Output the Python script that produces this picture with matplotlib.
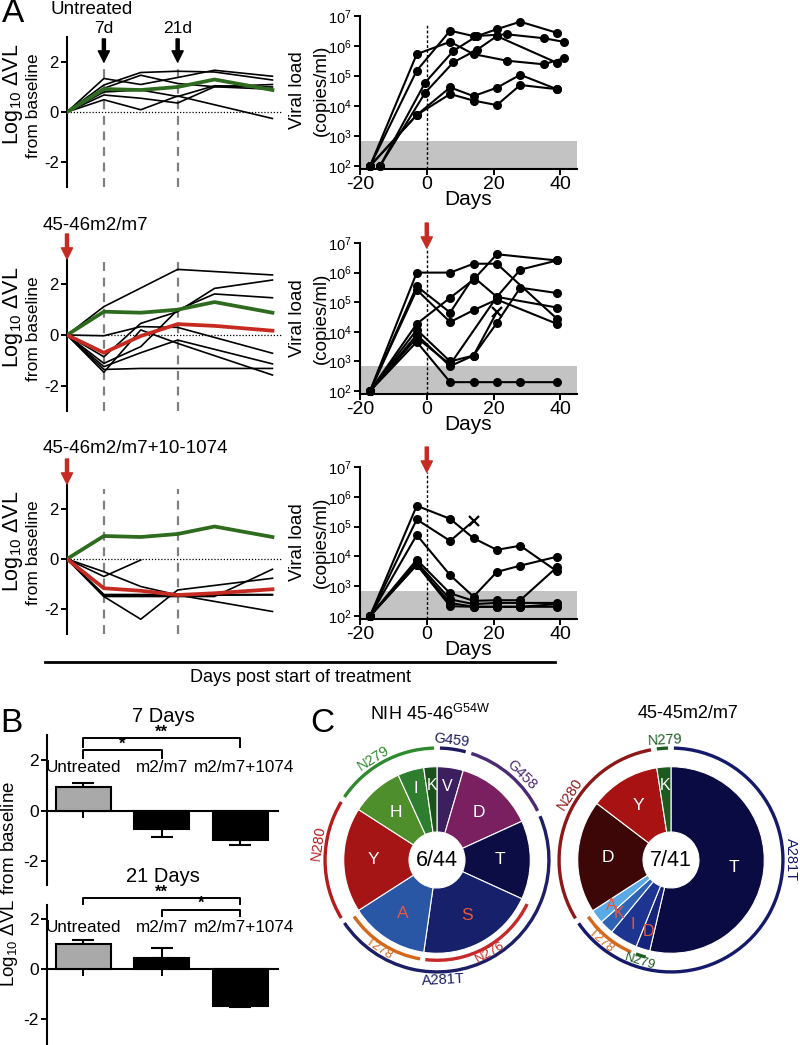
import numpy as np
import matplotlib
matplotlib.use("Agg")
import matplotlib.pyplot as plt
from matplotlib.patches import Wedge
from matplotlib.lines import Line2D

plt.rcParams['font.family'] = ['Liberation Sans', 'DejaVu Sans']
plt.rcParams['mathtext.fontset'] = 'custom'
plt.rcParams['mathtext.rm'] = 'Liberation Sans'
plt.rcParams['mathtext.it'] = 'Liberation Sans:italic'
plt.rcParams['mathtext.bf'] = 'Liberation Sans:bold'
plt.rcParams['axes.linewidth'] = 1.5
plt.rcParams['axes.unicode_minus'] = False

nan = np.nan

# ---- panel A, left: log10 change in viral load from baseline ----
dvl_days = [0, 7, 14, 21, 28, 39]
untr_mean = [0, 0.92, 0.88, 1.00, 1.30, 0.88]
m7_mean = [0, -0.70, -0.04, 0.43, 0.36, 0.17]
m1074_mean = [0, -1.17, -1.27, -1.44, -1.37, -1.21]

untr_dvl = [
    [0, 1.34, 1.10, 1.38, 1.67, 1.43],
    [0, 1.08, 1.58, 1.63, 1.60, 1.28],
    [0, 0.95, 1.47, 1.14, 1.01, 1.10],
    [0, 0.68, 0.55, 0.36, 1.01, 0.91],
    [0, 0.49, 0.09, 0.64, nan, -0.26],
    [0, 0.80, 0.88, 0.62, 1.05, 1.00],
]
m7_dvl = [
    [0, 1.12, nan, 2.59, nan, 2.37],
    [0, -0.03, 0.33, 0.30, nan, -0.72],
    [0, -0.86, 0.46, 0.92, 1.84, 2.17],
    [0, -1.12, -0.46, 0.99, 1.62, 1.47],
    [0, -1.25, -0.70, -0.20, nan, -1.14],
    [0, -1.36, -1.32, nan, nan, -1.32],
    [0, -1.47, 0.20, -0.33, nan, -1.58],
]
m1074_dvl = [
    [0, -0.51, -1.10, -1.44, nan, -2.10],
    [0, -0.70, -0.04, nan, nan, nan],
    [0, -1.50, -2.41, -1.24, nan, -0.77],
    [0, -1.50, -1.50, -1.50, -1.50, -0.41],
    [0, -1.45, nan, -1.45, nan, -1.44],
    [0, -1.42, nan, -1.42, nan, -1.42],
]

# ---- panel A, right: viral load (log10 copies/ml) ----
untr_vl_days = [
    [-17, -3, 7, 14, 24, 35, 41],
    [-17, -3, 7, 14, 24, 35, 41],
    [-14, -0.5, 8, 15, 21, 28, 39],
    [-14, -0.5, 8, 15, 21, 39],
    [-17, -3, 7, 14, 21, 28, 39],
    [-17, -3, 7, 14, 21, 28, 39],
]
untr_vl = [
    [2, 5.73, 6.14, 5.73, 5.51, 5.39, 5.59],
    [2, 5.18, 6.51, 6.33, 6.39, 6.26, 6.14],
    [2, 4.78, 5.84, 6.33, 6.56, 6.81, 6.44],
    [2, 4.44, 5.46, 5.87, 6.33, 5.44],
    [2, 3.70, 4.62, 4.33, 4.61, 5.04, 4.56],
    [2, 3.70, 4.40, 4.18, 4.03, 4.70, 4.56],
]
m7_vl_days = [
    [-17, -3, 7, 14, 21, 39],
    [-17, -3, 7, 14, 21, 39],
    [-17, -3, 7, 14, 21, 39],
    [-17, -3, 7, 14, 21, 39],
    [-17, -3, 7, 14, 21, 28, 39],
    [-17, -3, 7, 14, 21],
    [-17, -3, 7, 21, 28, 39],
    [-17, -3, 7, 14, 21, 28, 39],
]
m7_vl = [
    [2, 6.00, 6.00, 6.30, 6.30, 4.44],
    [2, 5.54, 4.65, 5.85, 5.18, 4.82],
    [2, 5.42, 4.33, 4.73, 5.09, 4.27],
    [2, 4.27, 5.15, 5.76, 6.62, 6.41],
    [2, 4.07, 3.00, 3.20, 4.30, 5.49, 5.31],
    [2, 3.90, 2.84, 3.20, 4.67],
    [2, 3.80, 2.90, 5.18, 6.10, 6.41],
    [2, 3.66, 2.30, 2.30, 2.30, 2.30, 2.30],
]
m7_lost = 5   # line that ends with an x
m1074_vl_days = [
    [-17, -3, 7, 14, 21, 28, 39],
    [-17, -3, 7, 14],
    [-17, -3, 7, 14, 21, 28, 39],
    [-17, -3, 7, 14, 21, 28, 39],
    [-17, -3, 7, 14, 21, 28, 39],
    [-17, -3, 7, 14, 21, 28, 39],
    [-17, -3, 7, 14, 21, 28, 39],
]
m1074_vl = [
    [2, 5.70, 5.26, 4.61, 4.22, 4.36, 3.50],
    [2, 5.24, 4.52, 5.19],
    [2, 4.72, 3.37, 2.65, 3.48, 3.69, 3.99],
    [2, 3.89, 2.76, 2.51, 2.53, 2.53, 3.64],
    [2, 3.80, 2.56, 2.40, 2.44, 2.44, 2.44],
    [2, 3.72, 2.44, 2.31, 2.31, 2.31, 2.31],
    [2, 3.72, 2.33, 2.31, 2.31, 2.31, 2.40],
]
m1074_lost = 1
detect_limit = 700

# ---- panel B ----
groups = ["Untreated", "m2/m7", "m2/m7+1074"]
d7_mean = [0.95, -0.74, -1.18]
d7_err = [0.13, 0.29, 0.18]
d21_mean = [1.00, 0.43, -1.48]
d21_err = [0.17, 0.40, 0.05]

# ---- panel C ----
left_aa = ["V", "D", "T", "S", "A", "Y", "H", "I", "K"]
left_n = [2, 6, 6, 9, 6, 8, 4, 2, 1]
left_col = ["#3b1f5f", "#7a2061", "#0d0d45", "#17216b", "#2a56a6",
            "#a61515", "#4f8f2b", "#2f7d2f", "#1b511b"]
left_txt = ["w", "w", "w", "#ea563b", "#ea563b", "w", "w", "w", "w"]
left_arc_lab = ["G459", "G458", "A281T", "N276", "T278", "N280", "N279"]
left_arc_first = [0, 1, 2, 3, 4, 5, 6]
left_arc_last = [0, 1, 4, 3, 4, 5, 8]
left_arc_inner = [0, 0, 0, 1, 1, 0, 0]
left_arc_col = ["#1d1b5e", "#4a2a72", "#1c1f66", "#c42a2a", "#d4691e", "#b51c1c", "#2f8a2f"]
left_arc_at = [7, 45, 177, 150, 213, 278, 328]

right_aa = ["T", "D", "I", "K", "A", "D", "Y", "K"]
right_n = [22, 1, 2, 1, 1, 8, 5, 1]
right_col = ["#0a0b42", "#15237a", "#1d3590", "#2e62b5", "#5aaae6",
             "#3d0707", "#a81212", "#1d5a1d"]
right_txt = ["w", "#ea563b", "#ea563b", "#ea563b", "#ea563b", "w", "w", "w"]
right_arc_lab = ["N279", "A281T", "N280", "T278", "N279"]
right_arc_first = [7, 0, 5, 2, 1]
right_arc_last = [7, 4, 6, 4, 1]
right_arc_inner = [0, 0, 0, 1, 1]
right_arc_col = ["#1f5e23", "#15196a", "#8c1818", "#d4691e", "#1f5e23"]
right_arc_at = [357, 90, 303, 221, 197]

GREEN = "#2e6b1e"
RED = "#c62b22"

W, H = 800, 1045
fig = plt.figure(figsize=(W / 100, H / 100), dpi=100)


def box(x0, y0, x1, y1):
    return fig.add_axes([x0 / W, 1 - y1 / H, (x1 - x0) / W, (y1 - y0) / H])


def ftext(x, y, s, **kw):
    kw.setdefault('ha', 'center')
    kw.setdefault('va', 'center')
    fig.text(x / W, 1 - y / H, s, **kw)


def dvl_panel(ax, lines, mean_line, dash_top):
    d = np.array(dvl_days)
    ax.vlines([7, 21], -3, dash_top, colors='#808080', lw=1.6,
              linestyles=(0, (4, 3)), zorder=1)
    ax.axhline(0, color='k', lw=0.9, ls=(0, (1, 1.5)), zorder=1)
    for v in lines:
        v = np.array(v, float)
        ok = ~np.isnan(v)
        ax.plot(d[ok], v[ok], color='k', lw=1.2, zorder=2)
    ax.plot(d, untr_mean, color=GREEN, lw=2.7, zorder=4)
    if mean_line is not None:
        ax.plot(d, mean_line, color=RED, lw=2.7, zorder=5)
    ax.set_xlim(0, 41)
    ax.set_ylim(-3, 3)
    for s in ['top', 'right', 'bottom']:
        ax.spines[s].set_visible(False)
    ax.set_xticks([])
    ax.set_yticks([-2, 0, 2])
    ax.tick_params(axis='y', labelsize=12, length=4, width=1.4, pad=2)
    ax.patch.set_alpha(0)


def vl_panel(ax, days_list, vl_list, lost, dot_top):
    ax.axhspan(10 ** 1.9, detect_limit, color='#c3c3c3', lw=0, zorder=0)
    for i, (d, v) in enumerate(zip(days_list, vl_list)):
        y = 10 ** np.array(v)
        ax.plot(d, y, 'k-', lw=1.5, clip_on=False, zorder=3)
        if i == lost:
            ax.plot(d[:-1], y[:-1], 'ko', ms=5.5, clip_on=False, zorder=3)
            ax.plot(d[-1], y[-1], 'kx', ms=7, mew=1.6, clip_on=False, zorder=3)
        else:
            ax.plot(d, y, 'ko', ms=5.5, clip_on=False, zorder=3)
    ax.vlines(0, 10 ** 1.9, 10 ** dot_top, colors='k', lw=1,
              linestyles=(0, (2, 1.5)), zorder=2)
    ax.set_yscale('log')
    ax.set_ylim(10 ** 1.9, 1e7)
    ax.set_xlim(-20, 45)
    ax.set_yticks([1e2, 1e3, 1e4, 1e5, 1e6, 1e7])
    ax.set_yticklabels(['$10^{%d}$' % k for k in range(2, 8)])
    ax.minorticks_off()
    ax.set_xticks([-20, 0, 20, 40])
    ax.tick_params(axis='x', labelsize=14, length=4, width=1.4, pad=1)
    ax.tick_params(axis='y', labelsize=10.5, length=4, width=1.4, pad=2)
    ax.set_xlabel('Days', fontsize=15, labelpad=-2)
    for s in ['top', 'right']:
        ax.spines[s].set_visible(False)
    ax.patch.set_alpha(0)


def arrow(ax, x, y, color, dy=18):
    ax.annotate('', xy=(x, y), xytext=(0, dy), textcoords='offset points',
                arrowprops=dict(facecolor=color, edgecolor=color, width=2.2,
                                headwidth=8, headlength=8, shrink=0),
                annotation_clip=False)


# ---------------- panel A ----------------
axL = [box(67, 37, 283, 187), box(67, 259, 283, 411), box(67, 484, 283, 634)]
dvl_panel(axL[0], untr_dvl, None, 2.0)
dvl_panel(axL[1], m7_dvl, m7_mean, 2.9)
dvl_panel(axL[2], m1074_dvl, m1074_mean, 2.8)

for day, lab in zip([7, 21], ['7d', '21d']):
    axL[0].annotate(lab, xy=(day, 2.0), xytext=(0, 24), textcoords='offset points',
                    ha='center', va='center', fontsize=12.5,
                    arrowprops=dict(facecolor='k', edgecolor='k', width=2.2,
                                    headwidth=8, headlength=8, shrink=0),
                    annotation_clip=False)
arrow(axL[1], 0, 3, RED)
arrow(axL[2], 0, 3, RED)

ftext(50, 9, "Untreated", fontsize=13.5, ha='left')
ftext(43, 225, "45-46m2/m7", fontsize=13.5, ha='left')
ftext(43, 448, "45-46m2/m7+10-1074", fontsize=13.5, ha='left')
for yc in [112, 335, 559]:
    ftext(13, yc - 18, "Log$_{10}$ ΔVL", fontsize=15.5, rotation=90)
    ftext(33, yc - 6, "from baseline", fontsize=12.5, rotation=90)

axR = [box(360, 16, 577, 169), box(360, 243, 577, 394), box(360, 467, 577, 619)]
vl_panel(axR[0], untr_vl_days, untr_vl, None, 6.7)
vl_panel(axR[1], m7_vl_days, m7_vl, m7_lost, 6.83)
vl_panel(axR[2], m1074_vl_days, m1074_vl, m1074_lost, 6.83)
arrow(axR[1], 0, 10 ** 6.83, RED)
arrow(axR[2], 0, 10 ** 6.83, RED)
for yc in [90, 318, 542]:
    ftext(297, yc, "Viral load", fontsize=13.5, rotation=90)
    ftext(321, yc, "(copies/ml)", fontsize=13.5, rotation=90)

fig.add_artist(Line2D([45 / W, 555 / W], [1 - 662 / H, 1 - 662 / H], color='k', lw=2))
ftext(300, 677, "Days post start of treatment", fontsize=13)

ftext(13, 14, "A", fontsize=24)
ftext(11, 723, "B", fontsize=24)
ftext(322, 723, "C", fontsize=24)


# ---------------- panel B ----------------
def bar_panel(ax, means, errs, ylim):
    x = np.arange(len(groups))
    ax.bar(x, means, width=0.7, color=['#a9a9a9', 'k', 'k'], edgecolor='k',
           lw=1.5, zorder=3)
    lower = [e if m < 0 else 0 for m, e in zip(means, errs)]
    upper = [e if m > 0 else 0 for m, e in zip(means, errs)]
    ax.errorbar(x, means, yerr=[lower, upper], fmt='none', ecolor='k',
                elinewidth=1.5, capsize=8, capthick=1.5, zorder=2)
    ax.set_xlim(-0.46, 2.48)
    ax.set_ylim(*ylim)
    ax.spines['bottom'].set_position(('data', 0))
    for s in ['top', 'right']:
        ax.spines[s].set_visible(False)
    ax.set_xticks(x)
    ax.set_xticklabels([])
    ax.set_yticks([-2, 0, 2])
    ax.tick_params(axis='x', length=5, width=1.4, direction='out')
    ax.tick_params(axis='y', labelsize=12.5, length=4, width=1.4, pad=2)
    ax.patch.set_alpha(0)


def bracket(ax, x0, x1, y, drop, stars, ystar):
    ax.plot([x0, x0, x1, x1], [y - drop, y, y, y - drop], color='k', lw=1.4,
            clip_on=False)
    ax.text((x0 + x1) / 2, ystar, stars, ha='center', va='center', fontsize=12,
            fontweight='bold', clip_on=False)


axB1 = box(47, 735, 278, 885)
bar_panel(axB1, d7_mean, d7_err, (-2.95, 3))
for i, g in enumerate(groups):
    axB1.text(i + (0.05 if i == 2 else 0), 1.73, g, ha='center', va='center', fontsize=12.3)
bracket(axB1, 0, 2, 2.87, 0.33, "**", 3.1)
bracket(axB1, 0, 1, 2.40, 0.30, "*", 2.62)
ftext(163, 716, "7 Days", fontsize=14.5)

axB2 = box(47, 905, 278, 1045)
bar_panel(axB2, d21_mean, d21_err, (-3.04, 2.56))
for i, g in enumerate(groups):
    axB2.text(i + (0.05 if i == 2 else 0), 1.64, g, ha='center', va='center', fontsize=12.3)
bracket(axB2, 0, 2, 2.84, 0.22, "**", 3.08)
bracket(axB2, 1, 2, 2.36, 0.22, "*", 2.62)
ftext(163, 876, "21 Days", fontsize=14.5)
ftext(10, 884, "Log$_{10}$ ΔVL from baseline", fontsize=13.5, rotation=90)


# ---------------- panel C ----------------
def donut(ax, counts, cols, letters, txtcols, centre, arc_lab, arc_first,
          arc_last, arc_inner, arc_col, arc_at):
    total = float(sum(counts))
    ax.pie(counts, colors=cols, startangle=90, counterclock=False, radius=1,
           wedgeprops=dict(width=0.7, edgecolor='white', linewidth=0.8))
    bounds = np.concatenate([[0], np.cumsum(counts)]) / total * 360
    for k, (lt, tc) in enumerate(zip(letters, txtcols)):
        a = np.radians((bounds[k] + bounds[k + 1]) / 2)
        small = counts[k] / total < 0.05
        r = 0.8 if small else 0.68
        ax.text(r * np.sin(a), r * np.cos(a), lt, color=tc,
                fontsize=11.5 if small else 12.5, ha='center', va='center')
    ax.text(0, 0, centre, fontsize=15.5, ha='center', va='center')
    gap = 1.5
    for lab, f, l, inner, col, at in zip(arc_lab, arc_first, arc_last, arc_inner,
                                         arc_col, arc_at):
        a1 = bounds[f] + gap
        a2 = bounds[l + 1] - gap
        r = 1.075 if inner else 1.2
        ax.add_patch(Wedge((0, 0), r + 0.018, 90 - a2, 90 - a1, width=0.036,
                           color=col, lw=0))
        rl = 1.14 if inner else 1.29
        t = np.radians(at)
        rot = -at if (at <= 90 or at >= 270) else 180 - at
        ax.text(rl * np.sin(t), rl * np.cos(t), lab, color=col,
                fontsize=9.5 if inner else 10.5,
                rotation=rot, rotation_mode='anchor', ha='center', va='center',
                clip_on=False)
    ax.set_xlim(-1.34, 1.34)
    ax.set_ylim(-1.34, 1.34)
    ax.set_aspect('equal')
    ax.axis('off')


axC1 = box(312, 735, 562, 985)
donut(axC1, left_n, left_col, left_aa, left_txt, "6/44", left_arc_lab,
      left_arc_first, left_arc_last, left_arc_inner, left_arc_col, left_arc_at)
axC2 = box(546, 735, 796, 985)
donut(axC2, right_n, right_col, right_aa, right_txt, "7/41", right_arc_lab,
      right_arc_first, right_arc_last, right_arc_inner, right_arc_col, right_arc_at)
ftext(430, 714, "NIH 45-46$^{\\mathrm{G54W}}$", fontsize=13)
ftext(688, 714, "45-45m2/m7", fontsize=13)

fig.savefig("out.png", dpi=100)
